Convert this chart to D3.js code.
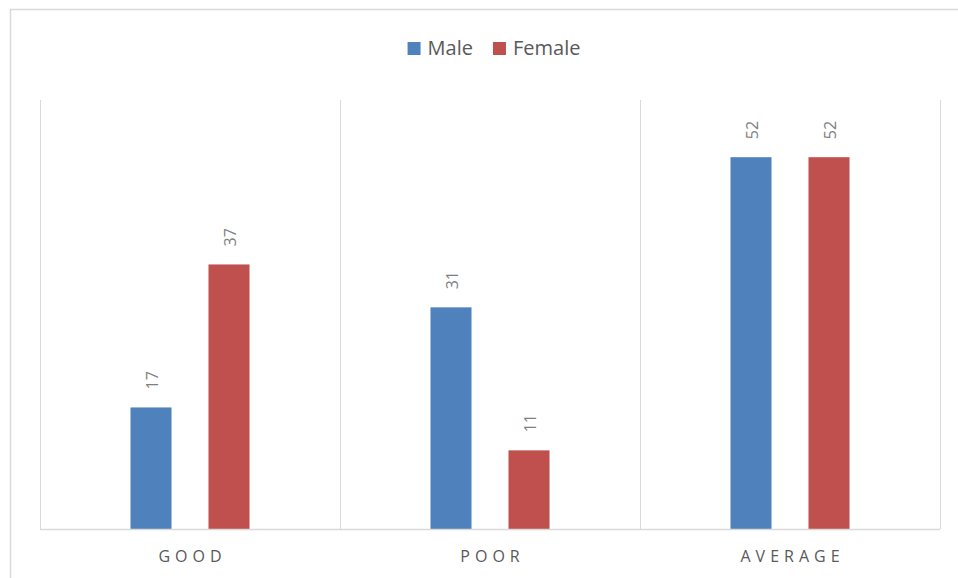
<!DOCTYPE html>
<html>
<head>
<meta charset="utf-8">
<script src="https://cdn.jsdelivr.net/npm/d3@7"></script>
<style>
  html, body { margin: 0; padding: 0; background: #fff; }
  svg { display: block; font-family: "Open Sans", "Liberation Sans", sans-serif; }
</style>
</head>
<body>
<svg id="chart" width="958" height="578"></svg>
<script>
// Survey ratings by gender
const categories = ["GOOD", "POOR", "AVERAGE"];
const series = ["Male", "Female"];
const maleValues = [17, 31, 52];
const femaleValues = [37, 11, 52];
const colors = ["#4F81BD", "#C0504D"];

const svg = d3.select("#chart");
const plot = { left: 40, right: 940, top: 100, bottom: 529 };

// chart frame (runs off the right and bottom edges)
svg.append("rect")
  .attr("x", 10.5).attr("y", 9.5)
  .attr("width", 970).attr("height", 590)
  .attr("fill", "#fff")
  .attr("stroke", "#d9d9d9").attr("stroke-width", 1.5);

const x = d3.scaleBand().domain(categories).range([plot.left, plot.right]).padding(0);
const xs = d3.scaleBand().domain(series).range([0, x.bandwidth()])
  .paddingInner(0.474).paddingOuter(1.16);
const y = d3.scaleLinear().domain([0, 60]).range([plot.bottom, plot.top]);

// vertical separators between categories
const bounds = categories.map(c => x(c)).concat([plot.right]);
svg.append("g").selectAll("line").data(bounds).join("line")
  .attr("x1", d => Math.round(d) + 0.5).attr("x2", d => Math.round(d) + 0.5)
  .attr("y1", plot.top).attr("y2", plot.bottom)
  .attr("stroke", "#d9d9d9").attr("stroke-width", 1);

const rows = categories.map((c, i) => ({
  cat: c,
  vals: [maleValues[i], femaleValues[i]]
}));

const groups = svg.append("g").selectAll("g").data(rows).join("g")
  .attr("transform", d => `translate(${x(d.cat)},0)`);

groups.selectAll("rect").data(d => d.vals.map((v, j) => ({ s: series[j], v, j })))
  .join("rect")
  .attr("x", d => xs(d.s))
  .attr("y", d => y(d.v))
  .attr("width", xs.bandwidth())
  .attr("height", d => y(0) - y(d.v))
  .attr("fill", d => colors[d.j]);

// value labels, rotated, above each bar
groups.selectAll("text.val").data(d => d.vals.map((v, j) => ({ s: series[j], v, j })))
  .join("text").attr("class", "val")
  .attr("transform", d => `translate(${xs(d.s) + xs.bandwidth() / 2 + 1.5},${y(d.v) - 18}) rotate(-90)`)
  .attr("dy", "0.35em")
  .attr("text-anchor", "start")
  .attr("font-size", 16)
  .attr("fill", "#7f7f7f")
  .text(d => d.v);

// baseline
svg.append("line")
  .attr("x1", plot.left).attr("x2", plot.right)
  .attr("y1", plot.bottom + 0.5).attr("y2", plot.bottom + 0.5)
  .attr("stroke", "#d9d9d9").attr("stroke-width", 1.5);

// category axis labels
const xAxis = d3.axisBottom(x).tickSize(0).tickPadding(0);
const axisG = svg.append("g").attr("transform", `translate(0,${plot.bottom})`).call(xAxis);
axisG.select(".domain").remove();
axisG.selectAll("text")
  .attr("y", 33).attr("dy", 0)
  .attr("font-size", 16)
  .attr("font-family", "'Open Sans', sans-serif")
  .attr("letter-spacing", "5px")
  .attr("fill", "#595959")
  .attr("dx", "2.5px");

// legend
const legend = svg.append("g");
let cursor = 0;
series.forEach((s, i) => {
  const item = legend.append("g").attr("transform", `translate(${cursor},0)`);
  item.append("rect").attr("x", 0).attr("y", -12).attr("width", 13).attr("height", 13)
    .attr("fill", colors[i]);
  const t = item.append("text").attr("x", 20).attr("y", 1)
    .attr("font-size", 20).attr("fill", "#595959").text(s);
  cursor += 20 + t.node().getComputedTextLength() + 20;
});
const legendW = cursor - 20;
legend.attr("transform", `translate(${494 - legendW / 2},54)`);
</script>
</body>
</html>
